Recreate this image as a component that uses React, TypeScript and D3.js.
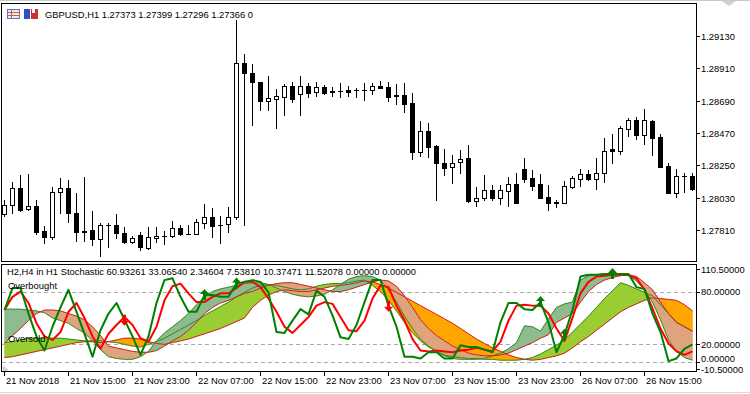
import React from "react";
import * as d3 from "d3";

// ---------- DATA ----------
const symbolHeader = "GBPUSD,H1  1.27373 1.27399 1.27296 1.27366  0";
const indicatorHeader = "H2,H4 in H1 Stochastic 60.93261 33.06540 2.34604 7.53810 10.37471 11.52078 0.00000 0.00000";

const timeLabels = ["21 Nov 2018", "21 Nov 15:00", "21 Nov 23:00", "22 Nov 07:00", "22 Nov 15:00", "22 Nov 23:00", "23 Nov 07:00", "23 Nov 15:00", "23 Nov 23:00", "26 Nov 07:00", "26 Nov 15:00"];
const timeLabelBars = [0, 8, 16, 24, 32, 40, 48, 56, 64, 72, 80];

const priceTicks = [1.2913, 1.2891, 1.2869, 1.2847, 1.2825, 1.2803, 1.2781];

const open = [
  1.27920, 1.27981, 1.28095, 1.27952, 1.27974, 1.27804, 1.27761, 1.28067, 1.28095, 1.27929,
  1.27806, 1.27811, 1.27748, 1.27845, 1.27845, 1.27789, 1.27727, 1.27775, 1.27687, 1.27755,
  1.27768, 1.27772, 1.27823, 1.27782, 1.27782, 1.27861, 1.27897, 1.27845, 1.27852, 1.27899,
  1.28949, 1.28881, 1.28819, 1.28690, 1.28704, 1.28717, 1.28790, 1.28734, 1.28790, 1.28747,
  1.28783, 1.28753, 1.28756, 1.28763, 1.28761, 1.28761, 1.28761, 1.28788, 1.28781, 1.28726,
  1.28729, 1.28673, 1.28343, 1.28482, 1.28382, 1.28269, 1.28237, 1.28271, 1.28301, 1.28010,
  1.28027, 1.28083, 1.28031, 1.28078, 1.28124, 1.28226, 1.28163, 1.28122, 1.28035, 1.27998,
  1.27997, 1.28105, 1.28160, 1.28190, 1.28160, 1.28197, 1.28360, 1.28350, 1.28500, 1.28559,
  1.28455, 1.28552, 1.28441, 1.28246, 1.28065, 1.28176, 1.28176,
];
const high = [
  1.28015, 1.28139, 1.28185, 1.28192, 1.28015, 1.27838, 1.28105, 1.28163, 1.28151, 1.28065,
  1.28169, 1.27940, 1.27861, 1.27861, 1.27920, 1.27829, 1.27770, 1.27799, 1.27833, 1.27833,
  1.27804, 1.27872, 1.27847, 1.27845, 1.27886, 1.27988, 1.27959, 1.27906, 1.27965, 1.29239,
  1.29008, 1.28940, 1.28819, 1.28858, 1.28770, 1.28804, 1.28819, 1.28858, 1.28813, 1.28817,
  1.28795, 1.28785, 1.28813, 1.28790, 1.28779, 1.28813, 1.28813, 1.28824, 1.28819, 1.28804,
  1.28811, 1.28741, 1.28552, 1.28541, 1.28389, 1.28362, 1.28321, 1.28355, 1.28389, 1.28103,
  1.28185, 1.28117, 1.28117, 1.28169, 1.28197, 1.28299, 1.28219, 1.28190, 1.28117, 1.28015,
  1.28146, 1.28178, 1.28226, 1.28217, 1.28299, 1.28435, 1.28464, 1.28518, 1.28571, 1.28581,
  1.28634, 1.28559, 1.28464, 1.28269, 1.28226, 1.28201, 1.28197,
];
const low = [
  1.27906, 1.27925, 1.27940, 1.27947, 1.27782, 1.27721, 1.27748, 1.27929, 1.27867, 1.27738,
  1.27738, 1.27709, 1.27634, 1.27693, 1.27755, 1.27721, 1.27721, 1.27675, 1.27682, 1.27731,
  1.27714, 1.27765, 1.27777, 1.27780, 1.27780, 1.27823, 1.27759, 1.27721, 1.27799, 1.27886,
  1.27845, 1.28525, 1.28627, 1.28627, 1.28505, 1.28593, 1.28683, 1.28593, 1.28717, 1.28722,
  1.28736, 1.28722, 1.28717, 1.28724, 1.28717, 1.28695, 1.28734, 1.28779, 1.28688, 1.28666,
  1.28613, 1.28296, 1.28314, 1.28309, 1.28015, 1.28185, 1.28133, 1.28197, 1.28003, 1.27976,
  1.28015, 1.28015, 1.27986, 1.27976, 1.27993, 1.28139, 1.28083, 1.28027, 1.27947, 1.27969,
  1.27997, 1.28099, 1.28110, 1.28149, 1.28092, 1.28139, 1.28269, 1.28328, 1.28450, 1.28432,
  1.28396, 1.28321, 1.28237, 1.28065, 1.28037, 1.28071, 1.28083,
];
const close = [
  1.27981, 1.28095, 1.27947, 1.27974, 1.27799, 1.27765, 1.28067, 1.28095, 1.27925, 1.27799,
  1.27799, 1.27748, 1.27845, 1.27842, 1.27789, 1.27725, 1.27755, 1.27691, 1.27759, 1.27768,
  1.27772, 1.27823, 1.27782, 1.27784, 1.27863, 1.27897, 1.27840, 1.27842, 1.27897, 1.28949,
  1.28877, 1.28815, 1.28690, 1.28709, 1.28722, 1.28790, 1.28700, 1.28790, 1.28745, 1.28783,
  1.28745, 1.28749, 1.28754, 1.28751, 1.28763, 1.28763, 1.28788, 1.28779, 1.28717, 1.28722,
  1.28668, 1.28343, 1.28482, 1.28377, 1.28269, 1.28235, 1.28269, 1.28296, 1.28008, 1.28029,
  1.28083, 1.28031, 1.28081, 1.28122, 1.27997, 1.28156, 1.28112, 1.28031, 1.27997, 1.27995,
  1.28108, 1.28163, 1.28190, 1.28160, 1.28197, 1.28348, 1.28350, 1.28503, 1.28559, 1.28455,
  1.28559, 1.28439, 1.28241, 1.28065, 1.28176, 1.28178, 1.28092,
];

// Stochastic lines (H2)
const stochMain = [
  59, 84, 84, 55, 29, 13, 40, 62, 82, 57,
  32, 6, 36, 55, 67, 48, 29, 8, 29, 67,
  93, 95, 74, 57, 57, 76, 76, 74, 74, 89,
  91, 93, 91, 79, 34, 33, 47, 60, 54, 81,
  74, 53, 28, 26, 42, 68, 93, 93, 64, 40,
  6, 6, 4, 11, 11, 4, 4, 19, 17, 17,
  14, 11, 45, 67, 67, 60, 59, 68, 45, 11,
  31, 59, 97, 99, 99, 100, 100, 100, 100, 85,
  83, 55, 34, 1, 4, 15, 20,
];
const stochSignal = [
  59, 74, 80, 67, 44, 29, 25, 34, 57, 67,
  50, 29, 15, 32, 42, 51, 42, 27, 23, 40,
  70, 86, 89, 78, 68, 68, 74, 78, 78, 84,
  91, 91, 85, 72, 57, 40, 33, 42, 51, 64,
  68, 66, 51, 36, 35, 47, 72, 87, 85, 64,
  47, 26, 13, 12, 13, 12, 11, 13, 14, 16,
  14, 12, 23, 47, 64, 65, 64, 64, 55, 38,
  24, 50, 78, 91, 97, 98, 99, 99.5, 99, 95,
  82, 61, 38, 21, 12, 8, 12,
];
// Cloud 1 (darkseagreen / tan)
const cloud1Main = [
  60, 60, 60, 59, 58, 56, 50, 47, 44, 38,
  33, 24, 14, 6, 4, 3, 3, 6, 12, 24,
  33, 40, 47, 55, 65, 74, 80, 83, 85, 87,
  89, 90, 90, 88, 84, 80, 77, 75, 74, 75,
  77, 82, 88, 94, 97, 98, 97, 93, 82, 68,
  52, 38, 26, 18, 12, 7, 4, 3, 3, 3,
  4, 7, 10, 15, 22, 41, 40, 35, 49, 62,
  66, 68, 93, 98, 99, 100, 100, 99, 98, 92,
  82, 68, 48, 25, 12, 5, 2,
];
const cloud1Signal = [
  21, 30, 38, 47, 55, 59, 59, 58, 55, 52,
  48, 40, 30, 18, 16, 14, 12, 11, 11, 13,
  18, 24, 29, 36, 45, 55, 62, 67, 70, 74,
  78, 80, 84, 87, 89, 90, 90, 88, 86, 84,
  82, 80, 80, 82, 85, 88, 91, 93, 92, 86,
  75, 62, 48, 38, 30, 24, 18, 14, 10, 8,
  7, 7, 8, 10, 14, 18, 22, 27, 31, 45,
  50, 55, 68, 80, 88, 93, 96, 98, 99, 97,
  90, 82, 68, 55, 45, 40, 35,
];
// Cloud 2 (yellowgreen / orange)
const cloud2Main = [
  22, 23, 25, 27, 27, 27, 27, 27, 26, 25,
  24, 24, 24, 23, 22, 20, 18, 17, 20, 23,
  27, 32, 37, 42, 47, 53, 58, 63, 68, 74,
  79, 84, 87, 88, 87, 85, 83, 82, 83, 86,
  88, 89, 89, 90, 92, 93, 87, 80, 70, 58,
  45, 33, 24, 17, 12, 8, 6, 5, 4, 4,
  3, 3, 2, 2, 2, 3, 5, 9, 14, 19,
  25, 34, 43, 52, 62, 72, 81, 90, 87, 83,
  79, 75, 65, 55, 45, 40, 35,
];
const cloud2Signal = [
  5, 6, 8, 10, 12, 14, 16, 18, 20, 22,
  23, 23, 22, 23, 25, 27, 27, 26, 23, 21,
  20, 22, 24, 26, 29, 32, 35, 38, 42, 46,
  50, 62, 70, 76, 80, 82, 81, 80, 80, 82,
  84, 86, 87, 88, 90, 92, 91, 88, 84, 79,
  74, 69, 64, 59, 54, 49, 44, 38, 32, 26,
  21, 16, 12, 8, 5, 3, 2, 3, 5, 7,
  10, 16, 23, 29, 36, 43, 50, 57, 62, 66,
  70, 73, 72, 71, 70, 65, 58,
];
const upArrowBars = [25, 29, 67, 70, 76];
const downArrowBars = [15, 48];
const levelValues = [80, 20, 0];
const indTickValues = [110.5, 80, 20, 0, -10.5];
const indTickLabels = ["110.50000", "80.00000", "20.00000", "0.00000", "-10.50000"];

// ---------- HELPERS ----------
type Run = { sign: number; up: [number, number][]; lo: [number, number][] };
function cloudRuns(a: number[], b: number[]): Run[] {
  const runs: Run[] = [];
  const sgn = (d: number) => (d > 0 ? 1 : d < 0 ? -1 : 0);
  let cur = sgn(a[0] - b[0]) || 1;
  let up: [number, number][] = [[0, a[0]]];
  let lo: [number, number][] = [[0, b[0]]];
  for (let i = 0; i < a.length - 1; i++) {
    const d0 = a[i] - b[i];
    const d1 = a[i + 1] - b[i + 1];
    const s1 = sgn(d1);
    if (s1 !== 0 && s1 !== cur) {
      const t = d0 === d1 ? 0 : d0 / (d0 - d1);
      const xi = i + t;
      const v = a[i] + t * (a[i + 1] - a[i]);
      up.push([xi, v]);
      lo.push([xi, v]);
      runs.push({ sign: cur, up, lo });
      cur = s1;
      up = [[xi, v]];
      lo = [[xi, v]];
    }
    up.push([i + 1, a[i + 1]]);
    lo.push([i + 1, b[i + 1]]);
  }
  runs.push({ sign: cur, up, lo });
  return runs;
}

const FONT = "'Liberation Sans', Arial, sans-serif";
const FS = 9.4;

export default function App() {
  const W = 750;
  const H = 394;
  const plotRight = 696;
  const priceTop = 3;
  const priceBottom = 261;
  const indTop = 264;
  const indBottom = 371;

  const n = open.length;
  const x = d3.scaleLinear().domain([0, n - 1]).range([4, 4 + 8 * (n - 1)]);
  const yP = d3.scaleLinear().domain([1.2781, 1.2913]).range([230, 36]);
  const yI = d3.scaleLinear().domain([-10.5, 110.5]).range([371.2, 264.7]);

  const lineGen = d3
    .line<number>()
    .x((_, i) => x(i) + 0.5)
    .y((v) => yI(v));
  const polyGen = d3
    .line<[number, number]>()
    .x((p) => x(p[0]) + 0.5)
    .y((p) => yI(p[1]));

  const cloudPaths = (a: number[], b: number[], bull: string, bear: string, key: string) =>
    cloudRuns(a, b).map((r, k) => {
      const pts = r.up.concat(r.lo.slice().reverse());
      return (
        <path
          key={key + k}
          d={polyGen(pts) + "Z"}
          fill={r.sign > 0 ? bull : bear}
          stroke={r.sign > 0 ? bull : bear}
          strokeWidth={0.5}
        />
      );
    });

  const candles = open.map((o, i) => {
    const c = close[i];
    const p = Math.round(x(i));
    const yh = Math.round(yP(high[i]));
    const yl = Math.round(yP(low[i]));
    const top = Math.round(yP(Math.max(o, c)));
    const bot = Math.round(yP(Math.min(o, c)));
    const bull = c > o;
    const els: React.ReactNode[] = [
      <line key="w" x1={p + 0.5} x2={p + 0.5} y1={yh} y2={yl + 1} stroke="#000" strokeWidth={1} />,
    ];
    if (bot - top < 1) {
      els.push(<line key="b" x1={p - 2} x2={p + 3} y1={top + 0.5} y2={top + 0.5} stroke="#000" strokeWidth={1} />);
    } else if (bull) {
      els.push(
        <rect key="b" x={p - 1.5} y={top + 0.5} width={4} height={Math.max(bot - top, 1)} fill="#fff" stroke="#000" strokeWidth={1} />
      );
    } else {
      els.push(<rect key="b" x={p - 2} y={top} width={5} height={Math.max(bot - top + 1, 1)} fill="#000" />);
    }
    return <g key={i}>{els}</g>;
  });

  const upArrow = (cx: number, cy: number, k: string) => (
    <path
      key={k}
      d={`M${cx},${cy - 6} L${cx + 4.5},${cy - 1} L${cx + 1.5},${cy - 1} L${cx + 1.5},${cy + 5} L${cx - 1.5},${cy + 5} L${cx - 1.5},${cy - 1} L${cx - 4.5},${cy - 1} Z`}
      fill="#008000"
    />
  );
  const downArrow = (cx: number, cy: number, k: string) => (
    <path
      key={k}
      d={`M${cx},${cy + 6} L${cx + 4.5},${cy + 1} L${cx + 1.5},${cy + 1} L${cx + 1.5},${cy - 5} L${cx - 1.5},${cy - 5} L${cx - 1.5},${cy + 1} L${cx - 4.5},${cy + 1} Z`}
      fill="#FF0000"
    />
  );

  return (
    <svg
      width={W}
      height={H}
      viewBox={`0 0 ${W} ${H}`}
      style={{ position: "fixed", left: 0, top: 0, background: "#fff" }}
      fontFamily={FONT}
      fontSize={FS}
    >
      <defs>
        <clipPath id="clipPrice">
          <rect x={2} y={priceTop + 1} width={plotRight - 2} height={priceBottom - priceTop - 1} />
        </clipPath>
        <clipPath id="clipInd">
          <rect x={2} y={indTop + 1} width={plotRight - 2} height={indBottom - indTop - 1} />
        </clipPath>
      </defs>
      <rect x={0} y={0} width={W} height={H} fill="#fff" />
      {/* window edges */}
      <line x1={0} x2={W} y1={0.5} y2={0.5} stroke="#C8C8C8" />
      <line x1={0} x2={W} y1={392.5} y2={392.5} stroke="#D8D8D8" />
      <polygon points="722,1 736,1 729,6" fill="#D0D0D0" />

      {/* ---- price panel ---- */}
      <g clipPath="url(#clipPrice)" shapeRendering="crispEdges">{candles}</g>
      <rect x={1.5} y={priceTop + 0.5} width={plotRight - 1.5} height={priceBottom - priceTop} fill="none" stroke="#000" shapeRendering="crispEdges" />
      {priceTicks.map((t) => {
        const yy = Math.round(yP(t)) + 0.5;
        return (
          <g key={t}>
            <line x1={plotRight} x2={plotRight + 4} y1={yy} y2={yy} stroke="#000" shapeRendering="crispEdges" />
            <text x={plotRight + 5} y={yy + 3.5} fill="#000">
              {t.toFixed(5)}
            </text>
          </g>
        );
      })}
      {/* header icons */}
      <rect x={7.5} y={9.5} width={12} height={9} fill="#F4E8DC" stroke="#5A78C0" />
      <line x1={8} x2={19} y1={12.5} y2={12.5} stroke="#D06040" />
      <line x1={8} x2={19} y1={15.5} y2={15.5} stroke="#D06040" />
      <line x1={11.5} x2={11.5} y1={10} y2={18} stroke="#5A78C0" />
      <rect x={24} y={9} width={6} height={10} fill="#3050C0" />
      <rect x={31} y={9} width={7} height={10} fill="#D03030" />
      <rect x={32} y={9} width={3} height={4} fill="#fff" />
      <text x={45} y={18} fill="#000">{symbolHeader}</text>

      {/* ---- indicator panel ---- */}
      <g clipPath="url(#clipInd)">
        {levelValues.map((v) => (
          <line
            key={v}
            x1={2}
            x2={plotRight}
            y1={Math.round(yI(v)) + 0.5}
            y2={Math.round(yI(v)) + 0.5}
            stroke="#A8A8A8"
            strokeDasharray="4,3"
            shapeRendering="crispEdges"
          />
        ))}
        {cloudPaths(cloud2Main, cloud2Signal, "#9ACD32", "#FFA500", "c2")}
        {cloudPaths(cloud1Main, cloud1Signal, "#8FBC8F", "#DDA47E", "c1")}
        <path d={lineGen(cloud2Main) || ""} fill="none" stroke="#2E8B22" strokeWidth={1} />
        <path d={lineGen(cloud2Signal) || ""} fill="none" stroke="#D02020" strokeWidth={1} />
        <path d={lineGen(cloud1Main) || ""} fill="none" stroke="#2E8B22" strokeWidth={1} />
        <path d={lineGen(cloud1Signal) || ""} fill="none" stroke="#D02020" strokeWidth={1} />
        <path d={lineGen(stochSignal) || ""} fill="none" stroke="#FF0000" strokeWidth={2} strokeLinejoin="round" />
        <path d={lineGen(stochMain) || ""} fill="none" stroke="#008000" strokeWidth={2} strokeLinejoin="round" />
        {upArrowBars.map((b) => upArrow(x(b) + 0.5, yI(stochMain[b]), "u" + b))}
        {downArrowBars.map((b) => downArrow(x(b) + 0.5, yI(stochMain[b]), "d" + b))}
        <text x={8} y={289} fill="#000">Overbought</text>
        <text x={8} y={342} fill="#000">Oversold</text>
        <text x={7} y={275} fill="#000">{indicatorHeader}</text>
      </g>
      <polygon points="3,365 3,371 9,371" fill="#D0D0D0" />
      <rect x={1.5} y={indTop + 0.5} width={plotRight - 1.5} height={indBottom - indTop} fill="none" stroke="#000" shapeRendering="crispEdges" />
      {indTickValues.map((v, k) => {
        const yy = Math.min(Math.max(yI(v), 269), 369);
        const ty = v === 0 ? 358 : yy;
        return (
          <g key={v}>
            <line x1={plotRight} x2={plotRight + 4} y1={Math.round(yy) + 0.5} y2={Math.round(yy) + 0.5} stroke="#000" shapeRendering="crispEdges" />
            <text x={plotRight + 5} y={ty + 3.5} fill="#000">
              {indTickLabels[k]}
            </text>
          </g>
        );
      })}

      {/* ---- time axis ---- */}
      {timeLabelBars.map((b, k) => {
        const px = Math.round(x(b)) + 0.5;
        return (
          <g key={b}>
            <line x1={px} x2={px} y1={indBottom} y2={indBottom + 5} stroke="#000" shapeRendering="crispEdges" />
            <text x={px + 1.5} y={384} fill="#000">
              {timeLabels[k]}
            </text>
          </g>
        );
      })}
    </svg>
  );
}
